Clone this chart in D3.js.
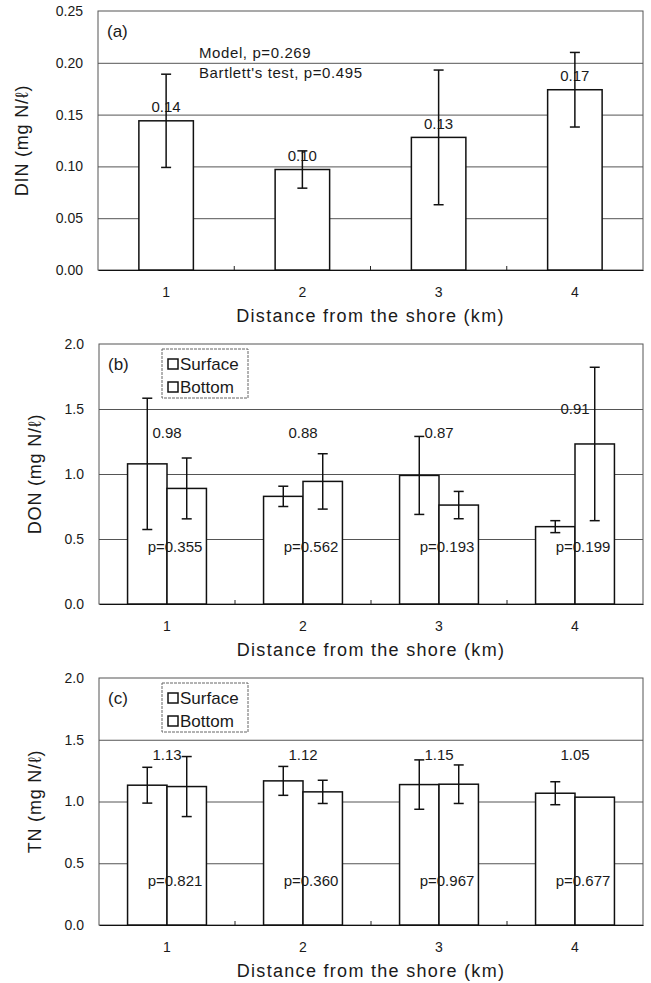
<!DOCTYPE html>
<html>
<head>
<meta charset="utf-8">
<script src="https://cdn.jsdelivr.net/npm/d3@7"></script>
<style>
  body { margin: 0; background: #fff; }
  text { fill: #1a1a1a; }
</style>
</head>
<body>
<script>
// distance from the shore (km)
const categories = [1, 2, 3, 4];
const groups = ['Surface', 'Bottom'];

// (a) DIN
const dinMean = [0.144, 0.097, 0.128, 0.174];
const dinSd = [0.045, 0.018, 0.065, 0.036];
const dinLabels = ['0.14', '0.10', '0.13', '0.17'];
const dinTicks = [0, 0.05, 0.10, 0.15, 0.20, 0.25];
const dinNotes = ['Model, p=0.269', "Bartlett's test, p=0.495"];

// (b) DON
const donSurface = [1.078, 0.828, 0.989, 0.595];
const donSurfaceSd = [0.505, 0.078, 0.30, 0.046];
const donBottom = [0.889, 0.943, 0.761, 1.231];
const donBottomSd = [0.234, 0.213, 0.105, 0.59];
const donLabels = ['0.98', '0.88', '0.87', '0.91'];
const donLabelAt = [1.32, 1.32, 1.32, 1.5];
const donP = ['p=0.355', 'p=0.562', 'p=0.193', 'p=0.199'];
const donPAt = 0.44;

// (c) TN
const tnSurface = [1.132, 1.167, 1.137, 1.067];
const tnSurfaceSd = [0.145, 0.117, 0.20, 0.093];
const tnBottom = [1.121, 1.078, 1.140, 1.035];
const tnBottomSd = [0.243, 0.094, 0.156, 0];
const tnLabels = ['1.13', '1.12', '1.15', '1.05'];
const tnLabelAt = 1.38;
const tnP = ['p=0.821', 'p=0.360', 'p=0.967', 'p=0.677'];
const tnPAt = 0.36;

const groupTicks = [0, 0.5, 1.0, 1.5, 2.0];

const svg = d3.select('body').append('svg')
    .attr('width', 651)
    .attr('height', 983)
    .style('font-family', '"Liberation Sans", Arial, sans-serif');

function drawPanel(p) {
    const g = svg.append('g');
    const width = p.right - p.left;

    const x = d3.scaleBand()
        .domain(categories)
        .range([p.left, p.right])
        .paddingInner(p.pad)
        .paddingOuter(p.pad / 2);
    const y = d3.scaleLinear()
        .domain([0, p.max])
        .range([p.bottom, p.top]);

    // gridlines
    g.append('g')
        .attr('transform', 'translate(' + p.left + ',0)')
        .call(d3.axisLeft(y).tickValues(p.ticks.slice(1, -1)).tickSize(-width).tickFormat(''))
        .call(s => s.select('.domain').remove())
        .call(s => s.selectAll('line').attr('stroke', '#555').attr('stroke-width', 1));

    // frame
    g.append('rect')
        .attr('x', p.left).attr('y', p.top)
        .attr('width', width).attr('height', p.bottom - p.top)
        .attr('fill', 'none').attr('stroke', '#555').attr('stroke-width', 1);

    // y tick labels
    g.append('g')
        .attr('transform', 'translate(' + p.left + ',0)')
        .call(d3.axisLeft(y).tickValues(p.ticks).tickSize(0).tickPadding(15).tickFormat(d3.format(p.fmt)))
        .call(s => s.select('.domain').remove())
        .call(s => s.selectAll('text').attr('font-size', 14).attr('fill', '#222'));

    // x axis
    g.append('g')
        .attr('transform', 'translate(0,' + p.bottom + ')')
        .call(d3.axisBottom(x).tickSize(0).tickPadding(17))
        .call(s => s.select('.domain').attr('stroke', '#111').attr('stroke-width', 1.2))
        .call(s => s.selectAll('text').attr('font-size', 14).attr('fill', '#222'));

    // small ticks between categories
    g.selectAll('.sep')
        .data(categories.slice(1))
        .enter().append('line')
        .attr('x1', d => x(d) - x.step() * x.paddingInner() / 2)
        .attr('x2', d => x(d) - x.step() * x.paddingInner() / 2)
        .attr('y1', p.bottom).attr('y2', p.bottom - 4)
        .attr('stroke', '#222');

    // axis titles
    g.append('text')
        .attr('x', (p.left + p.right) / 2)
        .attr('y', p.bottom + 46)
        .attr('dy', '0.35em')
        .attr('text-anchor', 'middle')
        .attr('font-size', 18)
        .attr('letter-spacing', 1.3)
        .text('Distance from the shore (km)');

    g.append('text')
        .attr('transform', 'translate(' + p.titleX + ',' + (p.top + p.bottom) / 2 + ') rotate(-90)')
        .attr('dy', '0.35em')
        .attr('text-anchor', 'middle')
        .attr('font-size', 18)
        .attr('letter-spacing', 0.8)
        .text(p.title);

    // panel letter
    g.append('text')
        .attr('x', p.left + 9)
        .attr('y', p.top + 20)
        .attr('dy', '0.35em')
        .attr('font-size', 17)
        .text(p.letter);

    return {g, x, y};
}

function errorBar(g, cx, y, m, sd) {
    if (!sd) return;
    const cap = 5;
    g.append('line')
        .attr('x1', cx).attr('x2', cx)
        .attr('y1', y(m + sd)).attr('y2', y(m - sd))
        .attr('stroke', '#111').attr('stroke-width', 1.5);
    [m + sd, m - sd].forEach(v => {
        g.append('line')
            .attr('x1', cx - cap).attr('x2', cx + cap)
            .attr('y1', y(v)).attr('y2', y(v))
            .attr('stroke', '#111').attr('stroke-width', 1.5);
    });
}

// ---- (a) ----
{
    const {g, x, y} = drawPanel({
        left: 98, right: 643, top: 11, bottom: 270, max: 0.25, pad: 0.6,
        ticks: dinTicks, fmt: '.2f', title: 'DIN (mg N/\u2113)', titleX: 22, letter: '(a)'
    });

    g.selectAll('.bar')
        .data(categories)
        .enter().append('rect')
        .attr('class', 'bar')
        .attr('x', d => x(d))
        .attr('width', x.bandwidth())
        .attr('y', (d, i) => y(dinMean[i]))
        .attr('height', (d, i) => y(0) - y(dinMean[i]))
        .attr('fill', '#fff').attr('stroke', '#111').attr('stroke-width', 1.5);

    categories.forEach((d, i) => {
        const cx = x(d) + x.bandwidth() / 2;
        g.append('text')
            .attr('x', cx).attr('y', y(dinMean[i]) - 14)
            .attr('dy', '0.35em')
            .attr('text-anchor', 'middle')
            .attr('font-size', 15)
            .text(dinLabels[i]);
        errorBar(g, cx, y, dinMean[i], dinSd[i]);
    });

    dinNotes.forEach((t, i) => {
        g.append('text')
            .attr('x', 199).attr('y', 53 + i * 20)
            .attr('dy', '0.35em')
            .attr('font-size', 15)
            .attr('letter-spacing', 0.6)
            .text(t);
    });
}

function groupedPanel(cfg) {
    const {g, x, y} = drawPanel(cfg);
    const inner = d3.scaleBand().domain(groups).range([0, x.bandwidth()]);
    const series = {Surface: [cfg.surface, cfg.surfaceSd], Bottom: [cfg.bottom_, cfg.bottomSd]};

    groups.forEach(s => {
        const [vals, sds] = series[s];
        g.selectAll('.bar-' + s)
            .data(categories)
            .enter().append('rect')
            .attr('x', d => x(d) + inner(s))
            .attr('width', inner.bandwidth())
            .attr('y', (d, i) => y(vals[i]))
            .attr('height', (d, i) => y(0) - y(vals[i]))
            .attr('fill', '#fff').attr('stroke', '#111').attr('stroke-width', 1.5);
    });

    categories.forEach((d, i) => {
        const cx = x(d) + x.bandwidth() / 2;
        g.append('text')
            .attr('x', cx).attr('y', y(cfg.labelAt[i]))
            .attr('dy', '0.35em')
            .attr('text-anchor', 'middle')
            .attr('font-size', 15)
            .text(cfg.labels[i]);
        g.append('text')
            .attr('x', cx + 8).attr('y', y(cfg.pAt))
            .attr('dy', '0.35em')
            .attr('text-anchor', 'middle')
            .attr('font-size', 15)
            .text(cfg.p[i]);
    });

    groups.forEach(s => {
        const [vals, sds] = series[s];
        categories.forEach((d, i) => {
            errorBar(g, x(d) + inner(s) + inner.bandwidth() / 2, y, vals[i], sds[i]);
        });
    });

    // legend
    const lg = g.append('g').attr('transform', 'translate(162,' + (cfg.top + 5) + ')');
    lg.append('rect')
        .attr('width', 86).attr('height', 49)
        .attr('fill', '#fff').attr('stroke', '#666').attr('stroke-width', 1)
        .attr('stroke-dasharray', '3,1');
    groups.forEach((s, i) => {
        lg.append('rect')
            .attr('x', 6).attr('y', 10 + i * 23)
            .attr('width', 10).attr('height', 10)
            .attr('fill', '#fff').attr('stroke', '#111').attr('stroke-width', 1.5);
        lg.append('text')
            .attr('x', 18).attr('y', 15 + i * 23)
            .attr('dy', '0.35em')
            .attr('font-size', 17)
            .text(s);
    });
}

// ---- (b) ----
groupedPanel({
    left: 99, right: 643, top: 344, bottom: 604, max: 2.0, pad: 0.42,
    ticks: groupTicks, fmt: '.1f', title: 'DON (mg N/\u2113)', titleX: 35, letter: '(b)',
    surface: donSurface, surfaceSd: donSurfaceSd, bottom_: donBottom, bottomSd: donBottomSd,
    labels: donLabels, labelAt: donLabelAt, p: donP, pAt: donPAt
});

// ---- (c) ----
groupedPanel({
    left: 99, right: 643, top: 678, bottom: 925, max: 2.0, pad: 0.42,
    ticks: groupTicks, fmt: '.1f', title: 'TN (mg N/\u2113)', titleX: 35, letter: '(c)',
    surface: tnSurface, surfaceSd: tnSurfaceSd, bottom_: tnBottom, bottomSd: tnBottomSd,
    labels: tnLabels, labelAt: categories.map(() => tnLabelAt), p: tnP, pAt: tnPAt
});
</script>
</body>
</html>
